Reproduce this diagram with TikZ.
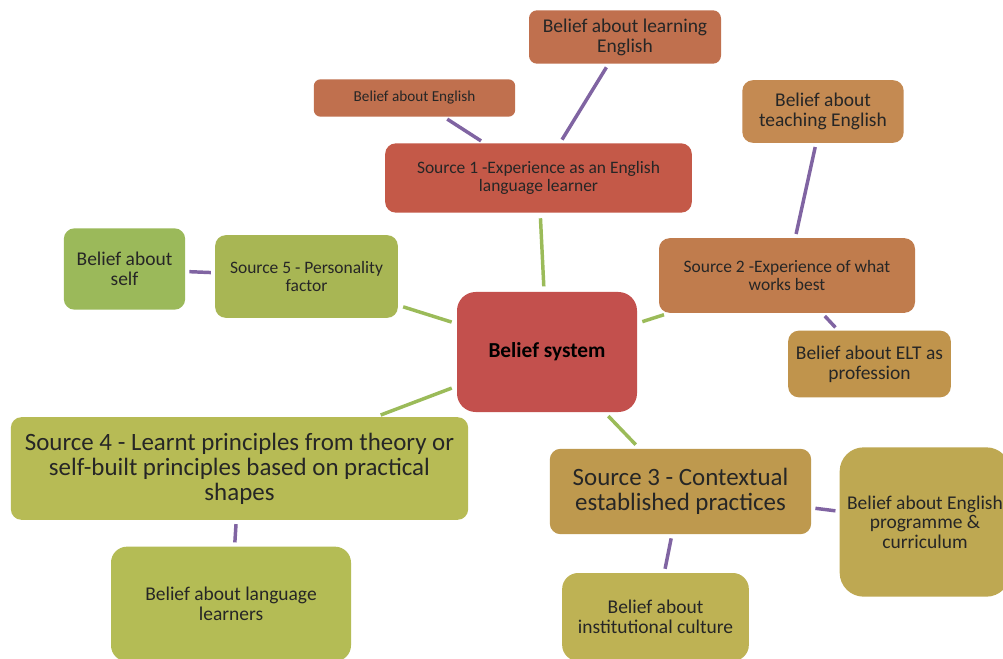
\documentclass[tikz,border=0pt]{standalone}
\usepackage{fontspec}
\setmainfont{Carlito}
\usetikzlibrary{positioning}
\definecolor{srcone}{RGB}{196,89,72}
\definecolor{learncol}{RGB}{192,112,78}
\definecolor{teachcol}{RGB}{196,138,82}
\definecolor{srctwo}{RGB}{192,124,77}
\definecolor{eltcol}{RGB}{192,148,76}
\definecolor{beliefcol}{RGB}{195,80,77}
\definecolor{srcfive}{RGB}{168,182,84}
\definecolor{selfcol}{RGB}{155,185,90}
\definecolor{srcfour}{RGB}{183,187,85}
\definecolor{langcol}{RGB}{180,188,85}
\definecolor{srcthree}{RGB}{190,153,78}
\definecolor{progcol}{RGB}{190,168,82}
\definecolor{instcol}{RGB}{190,178,84}
\definecolor{greenline}{RGB}{155,187,89}
\definecolor{purpleline}{RGB}{128,100,162}

\begin{document}
\begin{tikzpicture}[x=0.75pt,y=-0.75pt,
% styles
box/.style={rectangle, rounded corners=8pt, inner sep=0pt, align=center, text=black!85},
srctext/.style={font=\fontsize{13.1}{13.5}\selectfont},
bigtext/.style={font=\fontsize{18.7}{18.75}\selectfont},
subtext/.style={font=\fontsize{14.6}{15}\selectfont},
mainlink/.style={line width=2.6pt, greenline, shorten >=4pt, shorten <=4pt},
sublink/.style={line width=2.6pt, purpleline, shorten >=3pt, shorten <=3pt},
]
\clip (0,0) rectangle (1003,659);
\fill[white] (0,0) rectangle (1003,659);

% centre
\node[box, fill=beliefcol, minimum width=135pt, minimum height=90pt, rounded corners=14pt,
  font=\fontsize{16}{18}\selectfont\bfseries, text=black] (belief) at (547,352) {Belief system};

% sources
\node[box, srctext, fill=srcone, minimum width=230pt, minimum height=52pt]
  (src1) at (538.5,178) {Source 1 -Experience as an English\\language learner};
\node[box, srctext, fill=srctwo, minimum width=192pt, minimum height=56pt]
  (src2) at (787,275.5) {Source 2 -Experience of what\\works best};
\node[box, bigtext, fill=srcthree, minimum width=196pt, minimum height=64pt]
  (src3) at (680.5,491.5) {Source 3 - Contextual\\established practices};
\node[box, bigtext, fill=srcfour, minimum width=343pt, minimum height=77pt]
  (src4) at (239.5,468.5) {Source 4 - Learnt principles from theory or\\self-built principles based on practical\\shapes};
\node[box, srctext, fill=srcfive, minimum width=137pt, minimum height=62pt]
  (src5) at (306.5,276.5) {Source 5 - Personality\\factor};

% beliefs
\node[box, subtext, fill=learncol, minimum width=144pt, minimum height=40pt, rounded corners=6pt]
  (learnEng) at (625,37) {Belief about learning\\English};
\node[box, fill=learncol, minimum width=151pt, minimum height=28pt, rounded corners=5pt,
  font=\fontsize{11.4}{13}\selectfont] (aboutEng) at (414.5,98) {Belief about English};
\node[box, subtext, fill=teachcol, minimum width=121pt, minimum height=47pt]
  (teachEng) at (823,111.5) {Belief about\\teaching English};
\node[box, subtext, fill=eltcol, minimum width=122pt, minimum height=50pt]
  (elt) at (869.5,364) {Belief about ELT as\\profession};
\node[box, subtext, fill=selfcol, minimum width=91pt, minimum height=61pt]
  (self) at (124.5,269) {Belief about\\self};
\node[box, subtext, fill=langcol, minimum width=180pt, minimum height=86pt, rounded corners=12pt]
  (langLearn) at (231,604) {Belief about language\\learners};
\node[box, subtext, fill=instcol, minimum width=140pt, minimum height=66pt, rounded corners=12pt]
  (inst) at (655.5,617) {Belief about\\institutional culture};
\node[box, fill=progcol, minimum width=128pt, minimum height=112pt, rounded corners=18pt,
  font=\fontsize{14.6}{14.5}\selectfont] (prog) at (925,522) {Belief about English\\programme \&\\curriculum};

% links to the centre
\draw[mainlink] (belief) -- (src1);
\draw[mainlink] (belief) -- (src2);
\draw[mainlink] (belief) -- (src3);
\draw[mainlink] (belief) -- (src4);
\draw[mainlink] (belief) -- (src5);

% links to beliefs
\draw[sublink] (src1) -- (aboutEng);
\draw[sublink] (src1) -- (learnEng);
\draw[sublink] (src2) -- (teachEng);
\draw[sublink] (src2) -- (elt);
\draw[sublink] (src5) -- (self);
\draw[sublink] (src4) -- (langLearn);
\draw[sublink] (src3) -- (inst);
\draw[sublink] (src3) -- (prog);

\end{tikzpicture}
\end{document}
